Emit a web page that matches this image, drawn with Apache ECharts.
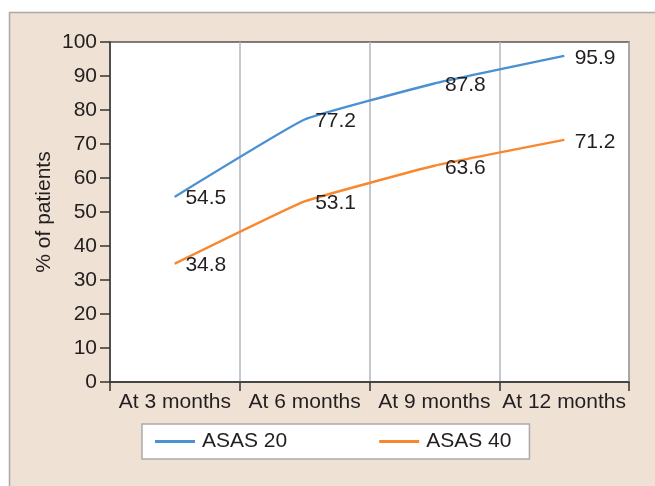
<!DOCTYPE html>
<html>
<head>
<meta charset="utf-8">
<script src="https://cdn.jsdelivr.net/npm/echarts@6/dist/echarts.min.js"></script>
<style>html,body{margin:0;padding:0;background:#fff;}#c{width:655px;height:486px;}</style>
</head>
<body>
<div id="c"></div>
<script>
var categories = ['At 3 months', 'At 6 months', 'At 9 months', 'At 12 months'];
var asas20 = [54.5, 77.2, 87.8, 95.9];
var asas40 = [34.8, 53.1, 63.6, 71.2];
var seriesNames = ['ASAS 20', 'ASAS 40'];
var yTicks = { min: 0, max: 100, interval: 10 };

var FONT = '"Liberation Sans", Arial, sans-serif';
var TXT = '#231f20';
var FS = 21;
var chart = echarts.init(document.getElementById('c'), null, { renderer: 'canvas' });

function lineSeries(name, data, color) {
  return {
    name: name,
    type: 'line',
    data: data,
    symbol: 'circle',
    symbolSize: 1,
    showSymbol: true,
    smooth: 0.1,
    lineStyle: { color: color, width: 2.4 },
    itemStyle: { color: color },
    label: {
      show: true,
      position: 'right',
      distance: 10,
      offset: [0, 2],
      color: TXT,
      fontSize: FS,
      fontFamily: FONT
    },
    z: 3
  };
}

chart.setOption({
  animation: false,
  backgroundColor: '#ffffff',
  graphic: [{
    type: 'rect',
    z: -10,
    silent: true,
    shape: { x: 9.5, y: 12.5, width: 700, height: 520 },
    style: { fill: '#efe1d4', stroke: '#a9a9a9', lineWidth: 1.5 }
  }],
  grid: {
    left: 110, right: 26, top: 42, bottom: 104,
    show: true,
    backgroundColor: '#ffffff',
    borderColor: '#555555',
    borderWidth: 1.5
  },
  legend: {
    data: seriesNames,
    left: 142,
    top: 424,
    padding: [7, 18, 7, 13],
    itemGap: 92,
    itemWidth: 40,
    itemHeight: 3,
    icon: 'rect',
    backgroundColor: '#ffffff',
    borderColor: '#aaaaaa',
    borderWidth: 1.5,
    textStyle: { color: TXT, fontSize: FS, fontFamily: FONT, padding: [0, 0, 0, 2] }
  },
  xAxis: {
    type: 'category',
    data: categories,
    boundaryGap: true,
    axisLine: { lineStyle: { color: '#333333', width: 1.5 } },
    axisTick: { show: true, length: 9, alignWithLabel: false, lineStyle: { color: '#333333', width: 1.5 } },
    axisLabel: { color: TXT, fontSize: FS, fontFamily: FONT, margin: 10, interval: 0 },
    splitLine: { show: true, interval: 0, lineStyle: { color: '#b4b4bc', width: 1.5 } }
  },
  yAxis: {
    type: 'value',
    min: yTicks.min, max: yTicks.max, interval: yTicks.interval,
    name: '% of patients',
    nameLocation: 'middle',
    nameRotate: 90,
    nameGap: 55,
    nameMoveOverlap: false,
    nameTextStyle: { color: TXT, fontSize: FS, fontFamily: FONT },
    axisLine: { show: true, lineStyle: { color: '#333333', width: 1.5 } },
    axisTick: { show: true, length: 10, inside: false, lineStyle: { color: '#333333', width: 1.5 } },
    axisLabel: { color: TXT, fontSize: FS, fontFamily: FONT, margin: 13 },
    splitLine: { show: false }
  },
  series: [
    lineSeries(seriesNames[0], asas20, '#4a90d2'),
    lineSeries(seriesNames[1], asas40, '#f7882f')
  ]
});
</script>
</body>
</html>
